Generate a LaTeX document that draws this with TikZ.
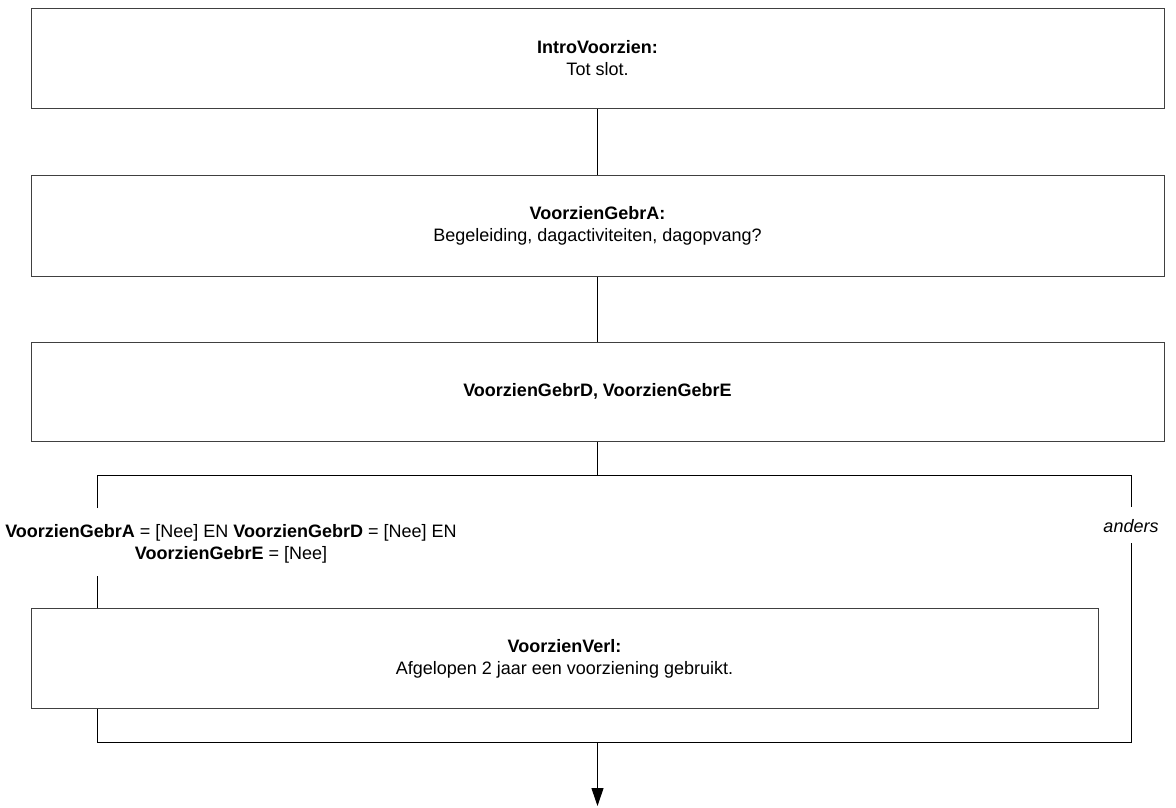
\documentclass[tikz,border=0pt]{standalone}
\usepackage{fontspec}
\setmainfont{Liberation Sans}
\usetikzlibrary{arrows.meta}
\begin{document}
\begin{tikzpicture}[x=1pt,y=-1pt,
  box/.style={draw=black!75, line width=1pt, rectangle, inner sep=0pt, align=center, font=\fontsize{18}{22}\selectfont},
  conn/.style={draw=black, line width=1pt},
  lbl/.style={inner sep=0pt, align=center, font=\fontsize{18}{22}\selectfont}]
\useasboundingbox (0,0) rectangle (1176,808);
% boxes
\node[box, minimum width=1133pt, minimum height=100pt] (b1) at (597.5,58.5) {\textbf{IntroVoorzien:}\\Tot slot.};
\node[box, minimum width=1133pt, minimum height=101pt] (b2) at (597.5,225.5) {\textbf{VoorzienGebrA:}\\Begeleiding, dagactiviteiten, dagopvang?};
\node[box, minimum width=1133pt, minimum height=99pt] (b3) at (597.5,391.5) {\textbf{VoorzienGebrD, VoorzienGebrE}};
\node[box, minimum width=1067pt, minimum height=100pt] (b4) at (564.5,658.5) {\textbf{VoorzienVerl:}\\Afgelopen 2 jaar een voorziening gebruikt.};
% labels
\node[lbl] (cond) at (231,543.4) {\textbf{VoorzienGebrA} = [Nee] EN \textbf{VoorzienGebrD} = [Nee] EN\\\textbf{VoorzienGebrE} = [Nee]};
\node[lbl, anchor=base, font=\fontsize{18}{22}\selectfont\itshape] (anders) at (1131,532) {anders};
% coordinates
\coordinate (split) at (597.5,475);
\coordinate (sl) at (97,475);
\coordinate (sr) at (1131,475);
\coordinate (lg1) at (97,508);
\coordinate (lg2) at (97,576);
\coordinate (rg1) at (1131,507);
\coordinate (rg2) at (1131,543);
\coordinate (ml) at (97,742);
\coordinate (mr) at (1131,742);
\coordinate (mc) at (597.5,742);
\coordinate (end) at (597.5,806);
% connectors
\draw[conn] (b1.south) -- (b2.north);
\draw[conn] (b2.south) -- (b3.north);
\draw[conn] (b3.south) -- (split);
\draw[conn] (lg1) -- (sl) -- (sr) -- (rg1);
\draw[conn] (lg2) -- (b4.north -| sl);
\draw[conn] (b4.south -| sl) -- (ml) -- (mr) -- (rg2);
\draw[conn, -{Triangle[length=18pt,width=12pt]}] (mc) -- (end);
\end{tikzpicture}
\end{document}
